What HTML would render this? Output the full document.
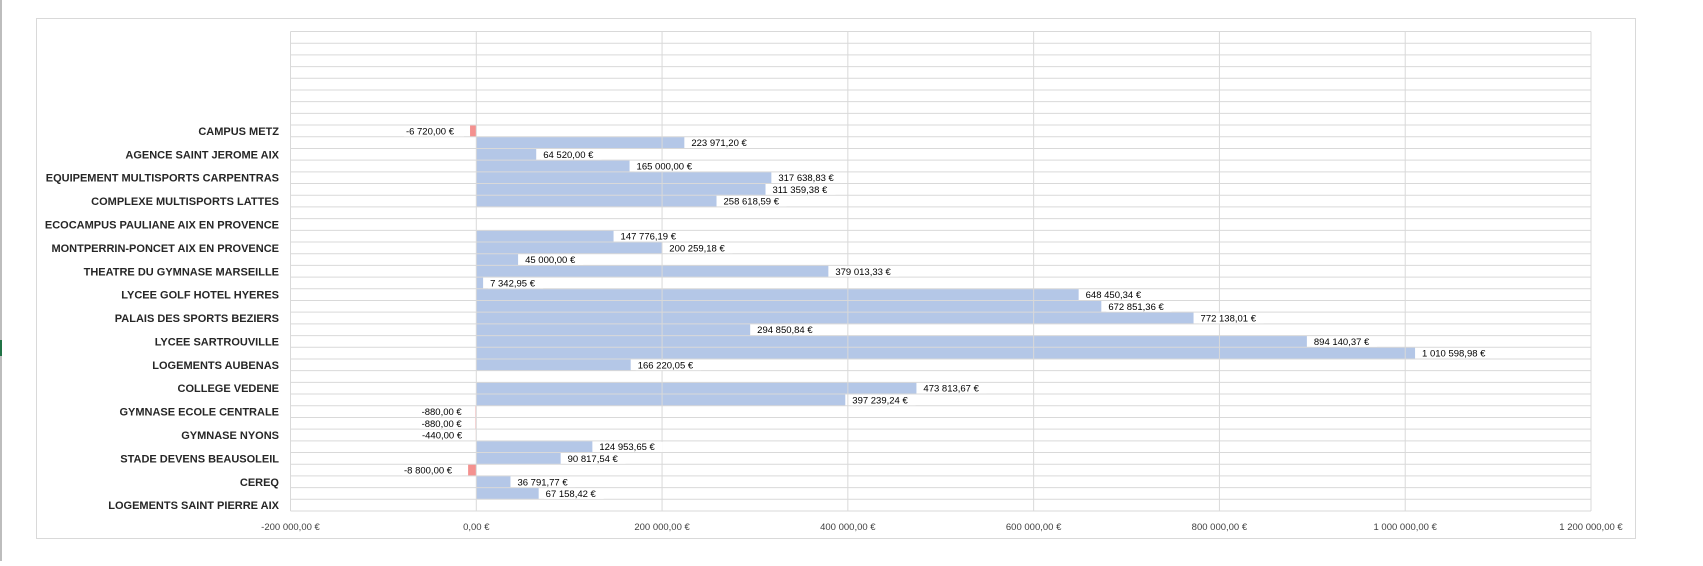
<!DOCTYPE html>
<html><head><meta charset="utf-8"><style>
body{margin:0;background:#fff;width:1703px;height:561px;overflow:hidden;font-family:"Liberation Sans",sans-serif}
</style></head><body>
<svg id="chart" width="1703" height="561" xmlns="http://www.w3.org/2000/svg">
<rect x="0" y="0" width="2" height="561" fill="#bdbdbd"/>
<rect x="0" y="340" width="2" height="16" fill="#217346"/>
<rect x="36.5" y="18.5" width="1599" height="520" fill="#fff" stroke="#d9d9d9"/>
<g id="bars"></g><g id="grid"></g><g id="labels"></g><g id="cats"></g><g id="ticks"></g>
</svg>
<script>
const categories=["","","","","","","","","CAMPUS METZ","","AGENCE SAINT JEROME AIX","","EQUIPEMENT MULTISPORTS CARPENTRAS","","COMPLEXE MULTISPORTS LATTES","","ECOCAMPUS PAULIANE AIX EN PROVENCE","","MONTPERRIN-PONCET AIX EN PROVENCE","","THEATRE DU GYMNASE MARSEILLE","","LYCEE GOLF HOTEL HYERES","","PALAIS DES SPORTS BEZIERS","","LYCEE SARTROUVILLE","","LOGEMENTS AUBENAS","","COLLEGE VEDENE","","GYMNASE ECOLE CENTRALE","","GYMNASE NYONS","","STADE DEVENS BEAUSOLEIL","","CEREQ","","LOGEMENTS SAINT PIERRE AIX"];
const values=[null,null,null,null,null,null,null,null,-6720,223971.20,64520,165000,317638.83,311359.38,258618.59,null,null,147776.19,200259.18,45000,379013.33,7342.95,648450.34,672851.36,772138.01,294850.84,894140.37,1010598.98,166220.05,null,473813.67,397239.24,-880,-880,-440,124953.65,90817.54,-8800,36791.77,67158.42,null];
const ticks=[-200000,0,200000,400000,600000,800000,1000000,1200000];
const NS="http://www.w3.org/2000/svg";
const L=290.5,R=1591,T=31.5,B=511,xmin=-200000,xmax=1200000;
const x=v=>L+(v-xmin)/(xmax-xmin)*(R-L);
const rh=(B-T)/categories.length;
const y=i=>T+i*rh;
function fmt(v){const neg=v<0;let s=Math.abs(v).toFixed(2).split('.');s[0]=s[0].replace(/\B(?=(\d{3})+(?!\d))/g,' ');return (neg?'-':'')+s[0]+','+s[1]+' €';}
function mk(tag,at,parent){const e=document.createElementNS(NS,tag);for(const k in at)e.setAttribute(k,at[k]);document.getElementById(parent).appendChild(e);return e;}
for(let i=0;i<=categories.length;i++){const l=mk('line',{x1:L,x2:R,y1:y(i),y2:y(i),stroke:'#d9d9d9','stroke-width':1},'grid');

}
ticks.forEach(t=>{const l=mk('line',{x1:x(t),x2:x(t),y1:T,y2:B,stroke:'#d9d9d9','stroke-width':1},'grid');


const tx=mk('text',{x:x(t),y:530,'text-anchor':'middle','font-size':'9.5',fill:'#404040'},'ticks');tx.textContent=fmt(t);

});
categories.forEach((c,i)=>{if(!c)return;const t=mk('text',{x:279,y:y(i)+rh/2+4,'text-anchor':'end','font-size':'11','font-weight':'bold',fill:'#262626'},'cats');t.textContent=c;

});
values.forEach((v,i)=>{if(v===null)return;const x0=x(0),x1=x(v);
const r=mk('rect',{x:Math.min(x0,x1),y:y(i),width:Math.max(Math.abs(x1-x0),0.5),height:rh,fill:v<0?'#f4918f':'#b4c7e7'},'bars');


const s=fmt(v);const w=s.length*5.1+4;const lx=v<0?Math.min(x0,x1)-6-w:x1+5;
const bg=mk('rect',{x:lx,y:y(i)+1,width:w,height:rh-1.5,fill:'#fff'},'labels');


const t=mk('text',{x:lx+2,y:y(i)+rh/2+3.5,'font-size':'9.5',fill:'#000'},'labels');t.textContent=s;

});
</script>
</body></html>
